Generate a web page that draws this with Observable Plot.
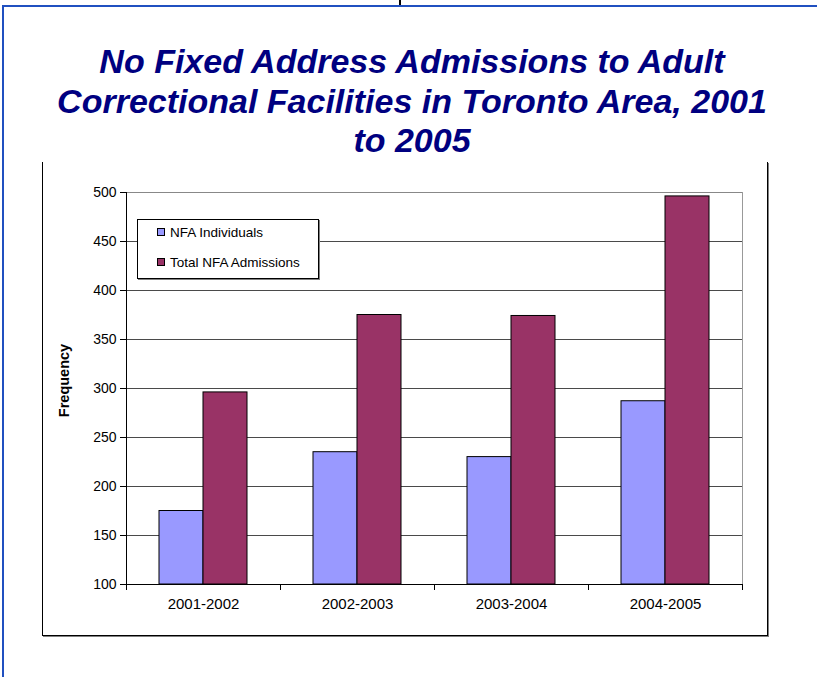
<!DOCTYPE html>
<html>
<head>
<meta charset="utf-8">
<script src="https://cdn.jsdelivr.net/npm/d3@7"></script>
<script src="https://cdn.jsdelivr.net/npm/@observablehq/plot@0.6"></script>
<style>
  html, body { margin: 0; padding: 0; background: white; overflow: hidden; }
  #page { position: relative; width: 817px; height: 677px; overflow: hidden; font-family: "Liberation Sans", Arial, sans-serif; }
  #outer { position: absolute; left: 2px; top: 5px; width: 900px; height: 800px; border-left: 2px solid #2050C0; border-top: 2px solid #2050C0; }
  #pin { position: absolute; left: 399px; top: 0; width: 2px; height: 5px; background: black; }
  #frame { position: absolute; left: 42px; top: 162px; width: 724px; height: 473px; border-left: 1px solid black; border-right: 1px solid black; border-bottom: 1px solid black; box-shadow: 1px 1px 0 #808080; background: white; }
  #title { position: absolute; left: 4px; top: 42px; width: 816px; text-align: center; font-family: "Liberation Sans", Arial, sans-serif; font-weight: bold; font-style: italic; font-size: 34px; line-height: 39.5px; color: #000080; background: white; }
  #chart { position: absolute; left: 0; top: 0; }
  #legend { position: absolute; left: 137px; top: 219px; width: 180px; height: 58px; border: 1px solid black; background: white; box-shadow: 1px 1px 0 #808080; font-size: 13.5px; color: black; }
  .item { position: absolute; left: 19px; height: 14px; line-height: 14px; white-space: nowrap; }
  .sw { display: inline-block; width: 6px; height: 6px; border: 1px solid black; margin-right: 5px; vertical-align: 1px; }
</style>
</head>
<body>
<div id="page">
  <div id="outer"></div>
  <div id="pin"></div>
  <div id="frame"></div>
  <div id="chart"></div>
  <div id="title">No Fixed Address Admissions to Adult<br>Correctional Facilities in Toronto Area, 2001<br>to 2005</div>
  <div id="legend"></div>
</div>
<script>
const categories = ["2001-2002", "2002-2003", "2003-2004", "2004-2005"];
const seriesNames = ["NFA Individuals", "Total NFA Admissions"];
const individuals = [175, 235, 230, 287];
const admissions = [296, 375, 374, 496];
const yTicks = [100, 150, 200, 250, 300, 350, 400, 450, 500];
const seriesColors = ["#9999FF", "#993366"];
const yLabel = "Frequency";

const data = categories.flatMap((c, i) => [
  {cat: c, series: seriesNames[0], value: individuals[i]},
  {cat: c, series: seriesNames[1], value: admissions[i]}
]);

const chart = Plot.plot({
  width: 817,
  height: 677,
  marginLeft: 125,
  marginRight: 75,
  marginTop: 192,
  marginBottom: 93,
  style: {background: "transparent", fontFamily: "'Liberation Sans', Arial, sans-serif", fontSize: "14px", color: "black"},
  fx: {domain: categories, paddingInner: 0, paddingOuter: 0, label: null},
  x: {domain: seriesNames, paddingInner: 0, paddingOuter: 0.74, axis: null},
  y: {domain: [yTicks[0], yTicks[yTicks.length - 1]], label: null},
  color: {domain: seriesNames, range: seriesColors},
  marks: [
    Plot.ruleY(yTicks.slice(1, -1), {stroke: "#4a4a4a", strokeWidth: 1}),
    Plot.ruleY(yTicks.slice(-1), {stroke: "#888", strokeWidth: 1}),
    Plot.frame({anchor: "right", facetAnchor: "right", stroke: "#999"}),
    Plot.barY(data, {fx: "cat", x: "series", y1: yTicks[0], y2: "value", fill: "series", stroke: "black", strokeWidth: 1}),
    Plot.ruleY(yTicks.slice(0, 1), {stroke: "black", strokeWidth: 1}),
    Plot.frame({anchor: "left", facetAnchor: "left", stroke: "black"}),
    Plot.frame({anchor: "left", insetTop: 392, insetBottom: -5, stroke: "black"}),
    Plot.frame({anchor: "right", insetTop: 392, insetBottom: -5, stroke: "black"}),
    Plot.axisY({ticks: yTicks, tickSize: 6, tickPadding: 4, label: null, fontSize: 14}),
    Plot.axisFx({anchor: "bottom", tickSize: 0, tickPadding: 14, label: null, fontSize: 15}),
    Plot.text([yLabel], {facet: "super", frameAnchor: "left", textAnchor: "middle", text: d => d, rotate: -90, dx: -62, dy: -8, fontWeight: "bold", fontSize: 14.5})
  ]
});
document.getElementById("chart").appendChild(chart);

const legend = document.getElementById("legend");
seriesNames.forEach((name, i) => {
  const item = document.createElement("div");
  item.className = "item";
  item.style.top = (6 + i * 30) + "px";
  const sw = document.createElement("span");
  sw.className = "sw";
  sw.style.background = seriesColors[i];
  item.appendChild(sw);
  item.appendChild(document.createTextNode(name));
  legend.appendChild(item);
});
</script>
</body>
</html>
